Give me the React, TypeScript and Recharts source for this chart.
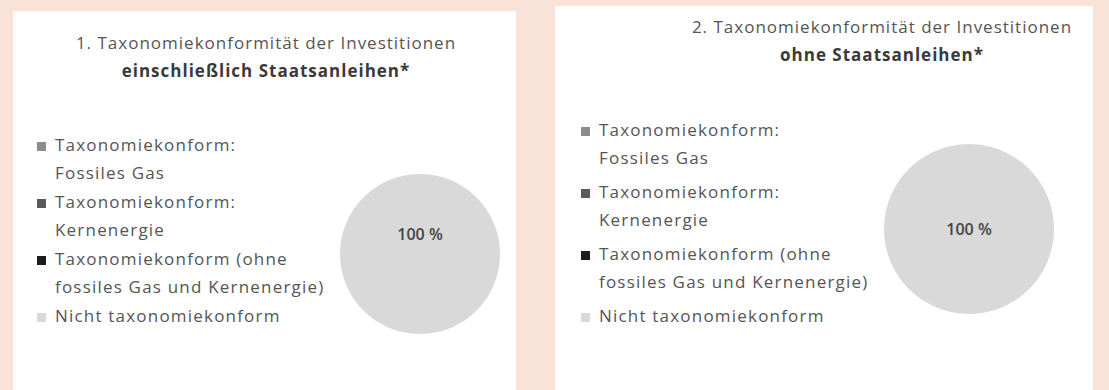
import React from 'react';
import { PieChart, Pie, Cell, Legend } from 'recharts';

// shared categories (legend entries) and their swatch colours
const categories = [
  'Taxonomiekonform:\nFossiles Gas',
  'Taxonomiekonform:\nKernenergie',
  'Taxonomiekonform (ohne\nfossiles Gas und Kernenergie)',
  'Nicht taxonomiekonform',
];
const colors = ['#8c8c8c', '#5a5a5a', '#1c1c1c', '#d9d9d9'];

// shares in percent
const valuesInclSovereign = [0, 0, 0, 100];
const valuesExclSovereign = [0, 0, 0, 100];

const titles1 = ['1. Taxonomiekonformität der Investitionen', 'einschließlich Staatsanleihen*'];
const titles2 = ['2. Taxonomiekonformität der Investitionen', 'ohne Staatsanleihen*'];

const FONT = '"Open Sans", "DejaVu Sans", sans-serif';
const TEXT = '#555555';

const buildData = (vals: number[]) => categories.map((name, i) => ({ name, value: vals[i] }));

const makeLegend = (gap: number) => ({ payload }: any) => {
  const items = [...(payload || [])].sort(
    (a: any, b: any) => categories.indexOf(a.value) - categories.indexOf(b.value)
  );
  return (
    <div
      style={{
        fontFamily: FONT,
        fontSize: 17,
        letterSpacing: 1.2,
        color: TEXT,
        lineHeight: '28px',
        textAlign: 'left',
      }}
    >
      {items.map((p: any, i: number) => (
        <div key={i} style={{ display: 'flex', alignItems: 'flex-start', marginBottom: gap }}>
          <span
            style={{
              display: 'inline-block',
              width: 9,
              height: 9,
              background: p.color,
              marginTop: 11,
              marginRight: 9,
              flexShrink: 0,
            }}
          />
          <span style={{ whiteSpace: 'pre-line' }}>{p.value}</span>
        </div>
      ))}
    </div>
  );
};

const pctLabel = (dy: number) => (props: any) => {
  const { cx, cy, value } = props;
  if (!value) return null;
  return (
    <text
      x={cx}
      y={cy + dy}
      textAnchor="middle"
      dominantBaseline="central"
      fill="#444"
      fontSize={16}
      fontFamily={FONT}
      fontWeight={600}
    >
      {`${value} %`}
    </text>
  );
};

interface PanelProps {
  left: number;
  top: number;
  width: number;
  height: number;
  title: string[];
  titleCx: number;
  titleTop: number;
  values: number[];
  cx: number;
  cy: number;
  r: number;
  legendLeft: number;
  legendTop: number;
  legendGap: number;
  labelDy: number;
}

const Panel: React.FC<PanelProps> = (p) => {
  const LegendContent = makeLegend(p.legendGap);
  return (
    <div
      style={{
        position: 'absolute',
        left: p.left,
        top: p.top,
        width: p.width,
        height: p.height,
        background: '#ffffff',
      }}
    >
      <PieChart width={p.width} height={p.height} margin={{ top: 0, right: 0, bottom: 0, left: 0 }}>
        <Pie
          data={buildData(p.values)}
          dataKey="value"
          nameKey="name"
          cx={p.cx}
          cy={p.cy}
          outerRadius={p.r}
          startAngle={90}
          endAngle={-270}
          stroke="none"
          labelLine={false}
          label={pctLabel(p.labelDy)}
          isAnimationActive={false}
        >
          {categories.map((c, i) => (
            <Cell key={c} fill={colors[i]} />
          ))}
        </Pie>
        <Legend
          layout="vertical"
          verticalAlign="middle"
          align="center"
          content={<LegendContent />}
          wrapperStyle={{ left: p.legendLeft, top: p.legendTop, width: 340 }}
        />
      </PieChart>
      <div
        style={{
          position: 'absolute',
          left: p.titleCx - 260,
          width: 520,
          top: p.titleTop,
          textAlign: 'center',
          fontFamily: FONT,
          fontSize: 17,
          letterSpacing: 1,
          lineHeight: '28px',
          color: TEXT,
        }}
      >
        <div>{p.title[0]}</div>
        <div style={{ fontWeight: 700, color: '#3a3a3a' }}>{p.title[1]}</div>
      </div>
    </div>
  );
};

export default function App() {
  return (
    <div
      style={{
        position: 'absolute',
        left: 0,
        top: 0,
        width: 1109,
        height: 390,
        background: '#f9e3d8',
        overflow: 'hidden',
      }}
    >
      <Panel
        left={13}
        top={11}
        width={503}
        height={379}
        title={titles1}
        titleCx={253}
        titleTop={18}
        values={valuesInclSovereign}
        cx={407}
        cy={243}
        r={80}
        legendLeft={24}
        legendTop={120}
        legendGap={1}
        labelDy={-20}
      />
      <Panel
        left={555}
        top={6}
        width={538}
        height={384}
        title={titles2}
        titleCx={327}
        titleTop={7}
        values={valuesExclSovereign}
        cx={414}
        cy={223}
        r={85}
        legendLeft={26}
        legendTop={110}
        legendGap={6}
        labelDy={0}
      />
    </div>
  );
}
